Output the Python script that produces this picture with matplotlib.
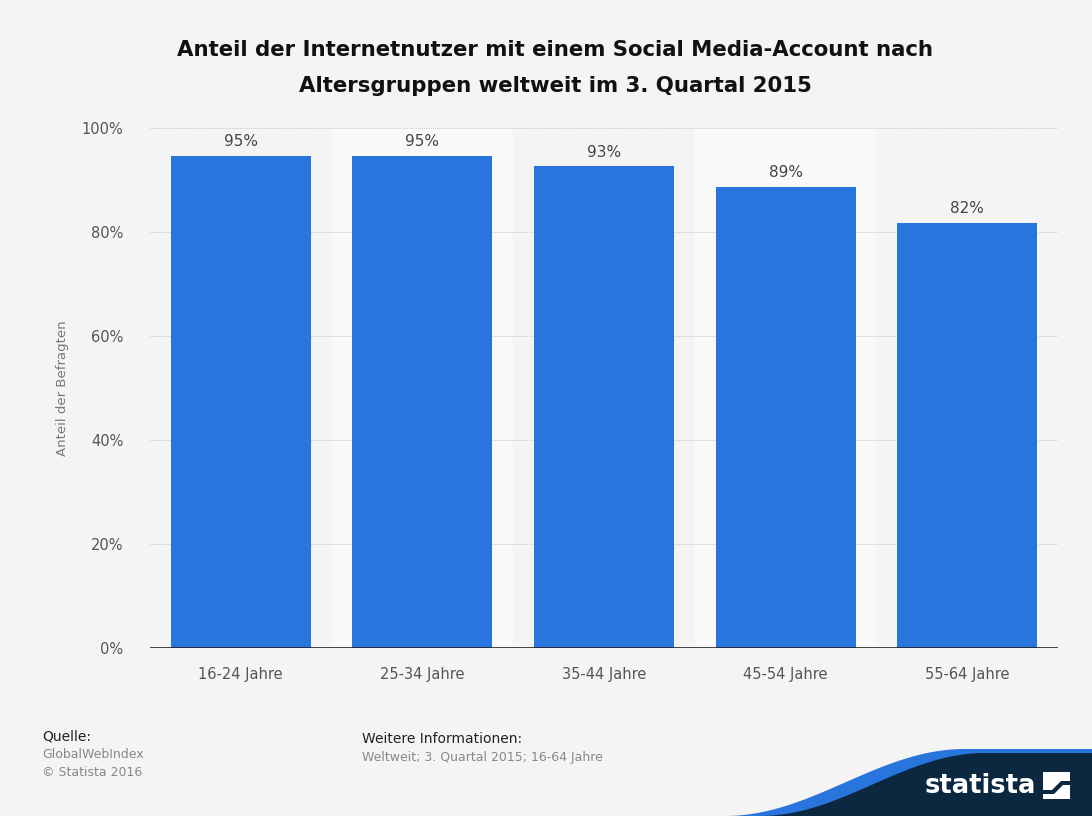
import numpy as np
import matplotlib.pyplot as plt
from matplotlib.patches import Polygon, Rectangle

categories = ["16-24 Jahre", "25-34 Jahre", "35-44 Jahre", "45-54 Jahre", "55-64 Jahre"]
values = [94.6, 94.6, 92.6, 88.7, 81.7]
yticks = [0, 20, 40, 60, 80, 100]

bg = "#f4f4f4"
bar_color = "#2875de"

fig = plt.figure(figsize=(10.92, 8.16), dpi=100, facecolor=bg)
ax = fig.add_axes([150/1092, 1 - 648/816, 908/1092, 520/816])
ax.set_facecolor(bg)

x = np.arange(len(categories))
# lighter bands behind every second category
for i in x:
    if i % 2 == 1:
        ax.axvspan(i - 0.5, i + 0.5, color="#f9f9f9", zorder=0, lw=0)

ax.set_ylim(0, 100)
ax.set_xlim(-0.5, len(categories) - 0.5)
for t in yticks[1:]:
    ax.axhline(t, color="#c4c4c4", lw=0.7, ls=(0, (1, 1.2)), zorder=1)

bars = ax.bar(x, values, width=0.77, color=bar_color, zorder=2)
for b, v in zip(bars, values):
    ax.text(b.get_x() + b.get_width()/2, v + 1.3, f"{v:.0f}%", ha="center", va="bottom",
            fontsize=11, color="#444444", zorder=3)

ax.axhline(0, color="#222222", lw=1.2, zorder=4)
for s in ax.spines.values():
    s.set_visible(False)
ax.set_xticks(x)
ax.set_xticklabels(categories, fontsize=10.5, color="#555555")
ax.set_yticks(yticks)
ax.set_yticklabels([f"{t}%" for t in yticks], fontsize=10.5, color="#555555")
ax.tick_params(length=0, pad=14)
ax.tick_params(axis="y", pad=19)
ax.set_ylabel("Anteil der Befragten", fontsize=9.5, color="#777777", labelpad=9)

fig.text(555/1092, 1 - 50/816, "Anteil der Internetnutzer mit einem Social Media-Account nach",
         ha="center", va="center", fontsize=15.3, fontweight="bold", color="#111111")
fig.text(555/1092, 1 - 86/816, "Altersgruppen weltweit im 3. Quartal 2015",
         ha="center", va="center", fontsize=15.3, fontweight="bold", color="#111111")

fig.text(42/1092, 1 - 737/816, "Quelle:", fontsize=10, color="#222222", va="center")
fig.text(42/1092, 1 - 755/816, "GlobalWebIndex", fontsize=9, color="#888888", va="center")
fig.text(42/1092, 1 - 773/816, "© Statista 2016", fontsize=9, color="#888888", va="center")
fig.text(362/1092, 1 - 739/816, "Weitere Informationen:", fontsize=10, color="#222222", va="center")
fig.text(362/1092, 1 - 758/816, "Weltweit; 3. Quartal 2015; 16-64 Jahre", fontsize=9, color="#888888", va="center")

# statista footer wave
W, H = 1092, 816
t = np.linspace(0, 1, 60)
xs = 725 + (965 - 725) * t
ys_top = 816 - (816 - 749) * (0.5 - 0.5*np.cos(np.pi*t))
blue = [(725, 816)] + list(zip(xs, ys_top)) + [(1092, 749), (1092, 816)]
fig.patches.append(Polygon([(px/W, 1 - py/H) for px, py in blue], closed=True,
                           transform=fig.transFigure, color="#2875de", lw=0))
xs2 = 760 + (985 - 760) * t
ys2 = 816 - (816 - 753) * (0.5 - 0.5*np.cos(np.pi*t))
navy = [(760, 816)] + list(zip(xs2, ys2)) + [(1092, 753), (1092, 816)]
fig.patches.append(Polygon([(px/W, 1 - py/H) for px, py in navy], closed=True,
                           transform=fig.transFigure, color="#0b2840", lw=0))
fig.text(1036/1092, 1 - 786/816, "statista", ha="right", va="center", fontsize=18.5,
         fontweight="bold", color="white")
fig.patches.append(Rectangle((1043/W, 1 - 799/H), 27/W, 27/H, transform=fig.transFigure,
                             color="white", lw=0))
# the S-cut inside the logo square
cut = [(1043, 790), (1052, 790), (1061, 781), (1070, 781), (1070, 785), (1063, 785), (1054, 794), (1043, 794)]
fig.patches.append(Polygon([(px/W, 1 - py/H) for px, py in cut], closed=True,
                           transform=fig.transFigure, color="#0b2840", lw=0))

fig.savefig("out.png", dpi=100, facecolor=bg)
